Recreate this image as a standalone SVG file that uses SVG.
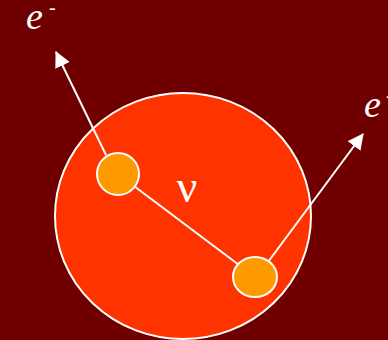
<svg xmlns="http://www.w3.org/2000/svg" width="388" height="340" viewBox="0 0 388 340">
<defs>
<style>
.t{font-family:"Liberation Serif","Times New Roman",serif;fill:#fff}
.ln{stroke:#fff;stroke-width:2;fill:none}
.small{fill:#FF9900;stroke:#fff;stroke-width:2}
</style>
<marker id="ah2" markerWidth="16" markerHeight="16" refX="15" refY="8" orient="auto" markerUnits="userSpaceOnUse" viewBox="0 0 16 16">
<path d="M0,0 L16,8 L0,16 z" fill="#fff"/>
</marker>
</defs>
<rect width="388" height="340" fill="#700000"/>
<g id="nucleus">
<ellipse cx="183" cy="216" rx="128" ry="123" fill="#FF3300" stroke="#fff" stroke-width="2"/>
<text class="t" x="187" y="202" font-size="46" text-anchor="middle">ν</text>
</g>
<g id="connectors">
<line class="ln" x1="118" y1="174" x2="255" y2="277"/>
<line class="ln" x1="106" y1="155" x2="56" y2="52" marker-end="url(#ah2)"/>
<line class="ln" x1="268" y1="262" x2="363" y2="134" marker-end="url(#ah2)"/>
</g>
<g id="p1"><circle class="small" cx="118" cy="174" r="21"/></g>
<g id="p2"><ellipse class="small" cx="255" cy="277" rx="22" ry="20"/></g>
<g id="e1"><text class="t" x="26" y="29" font-size="38" font-style="italic">e</text><text class="t" x="49" y="14" font-size="20">-</text></g>
<g id="e2"><text class="t" x="364" y="117" font-size="38" font-style="italic">e</text><text class="t" x="386" y="102" font-size="20">-</text></g>
</svg>
